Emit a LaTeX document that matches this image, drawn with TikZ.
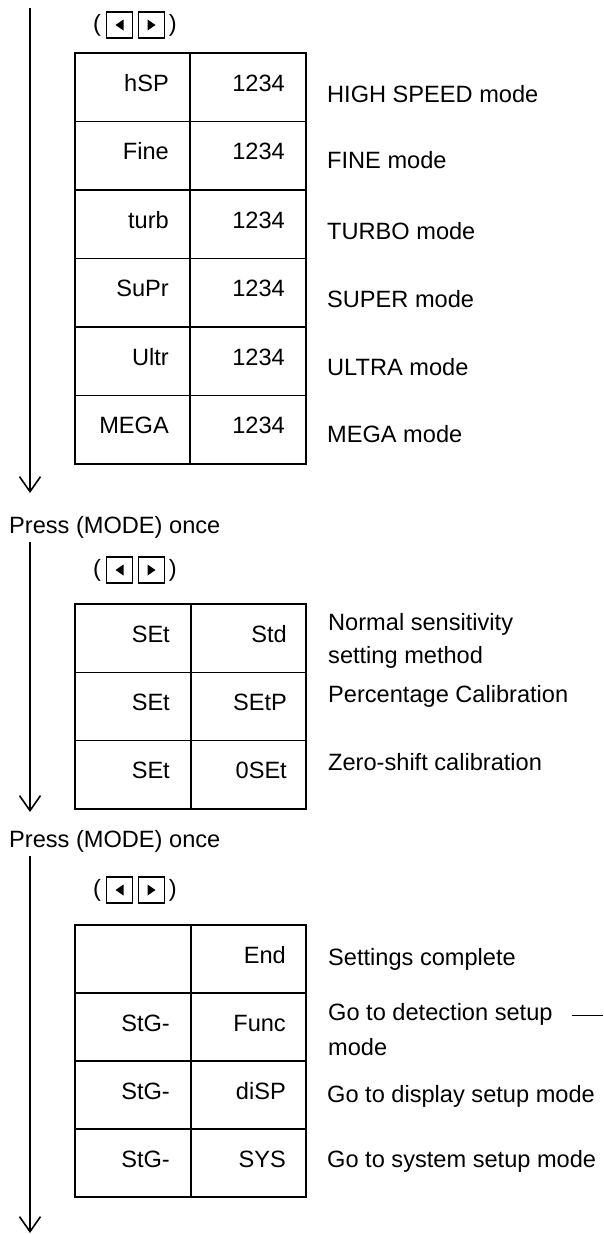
\documentclass[tikz,border=0pt]{standalone}
\usepackage{fontspec}
\setmainfont{Liberation Sans}
\usetikzlibrary{arrows.meta}

\tikzset{
  cell/.style={anchor=base east, inner sep=0pt},
  note/.style={anchor=base west, inner sep=0pt},
  flow/.style={line width=1.6pt, -{Straight Barb[length=15pt,width=21pt,line width=1.6pt]}},
  grid/.style={line width=1.4pt},
  midline/.style={line width=2pt},
  key/.style={draw, line width=1.3pt, minimum size=26pt, inner sep=0pt},
}

\begin{document}
\begin{tikzpicture}[x=1pt, y=-1pt, font=\fontsize{23.6}{28}\selectfont]
  \useasboundingbox (0,0) rectangle (603,1234);

  % flow arrows on the left
  \coordinate (a1s) at (30,8);   \coordinate (a1e) at (30,493);
  \coordinate (a2s) at (30,542); \coordinate (a2e) at (30,812);
  \coordinate (a3s) at (30,856); \coordinate (a3e) at (30,1233);
  \draw[flow] (a1s) -- (a1e);
  \draw[flow] (a2s) -- (a2e);
  \draw[flow] (a3s) -- (a3e);
  \node[note] (press1) at (9,533) {Press (MODE) once};
  \node[note] (press2) at (9,847) {Press (MODE) once};

  % arrow key hints
  \foreach \y/\k in {25/a,570/b,890/c}{
    \node[anchor=west, inner sep=0pt] (lp\k) at (93,\y) {(};
    \node[key] (kl\k) at (119.5,\y) {};
    \node[key] (kr\k) at (151.5,\y) {};
    \node[anchor=east, inner sep=0pt] (rp\k) at (177,\y) {)};
    \fill ([xshift=-4pt]kl\k.center) -- ++(8pt,5.5pt) -- ++(0,-11pt) -- cycle;
    \fill ([xshift=4pt]kr\k.center) -- ++(-8pt,5.5pt) -- ++(0,-11pt) -- cycle;
  }

  % sensitivity modes
  \draw[grid] (75,53) rectangle (306,464);
  \foreach \i in {1,...,5} \draw[grid] (75,{53+68.5*\i}) -- (306,{53+68.5*\i});
  \draw[midline] (190,53) -- (190,464);
  \foreach \a/\t/\yd [count=\i from 0] in {hSP/HIGH SPEED mode/102, Fine/FINE mode/168,
      turb/TURBO mode/239, SuPr/SUPER mode/307, Ultr/ULTRA mode/375, MEGA/MEGA mode/442}{
    \node[cell] (ml\i) at (169,{91+68.5*\i}) {\a};
    \node[cell] (mr\i) at (285,{91+68.5*\i}) {1234};
    \node[note] (md\i) at (327,\yd) {\t};
  }

  % setting methods
  \draw[grid] (75,604) rectangle (306,809);
  \foreach \i in {1,2} \draw[grid] (75,{604+68.3*\i}) -- (306,{604+68.3*\i});
  \draw[midline] (191,604) -- (191,809);
  \foreach \b [count=\i from 0] in {Std,SEtP,0SEt}{
    \node[cell] (sl\i) at (170,{642+68.3*\i}) {SEt};
    \node[cell] (sr\i) at (287,{642+68.3*\i}) {\b};
  }
  \node[note] (sd0) at (328,630) {Normal sensitivity};
  \node[note] (sd0b) at (328,663) {setting method};
  \node[note] (sd1) at (328,702) {Percentage Calibration};
  \node[note] (sd2) at (328,770) {Zero-shift calibration};

  % exit menu
  \draw[grid] (75,925) rectangle (306,1197);
  \foreach \i in {1,2,3} \draw[grid] (75,{925+68*\i}) -- (306,{925+68*\i});
  \draw[midline] (191,925) -- (191,1197);
  \foreach \b [count=\i from 0] in {End,Func,diSP,SYS}{
    \node[cell] (er\i) at (286,{963+68*\i}) {\b};
  }
  \foreach \i in {1,2,3} \node[cell] (el\i) at (170,{963+68*\i}) {StG-};
  \node[note] (ed0) at (328,965) {Settings complete};
  \node[note] (ed1) at (328,1020) {Go to detection setup};
  \node[note] (ed1b) at (328,1055) {mode};
  \node[note] (ed2) at (327,1102) {Go to display setup mode};
  \node[note] (ed3) at (327,1167) {Go to system setup mode};
  \coordinate (stub) at (603,1015);
  \draw[line width=0.9pt] ([shift={(19pt,5pt)}]ed1.base east) -- (stub);
\end{tikzpicture}
\end{document}
